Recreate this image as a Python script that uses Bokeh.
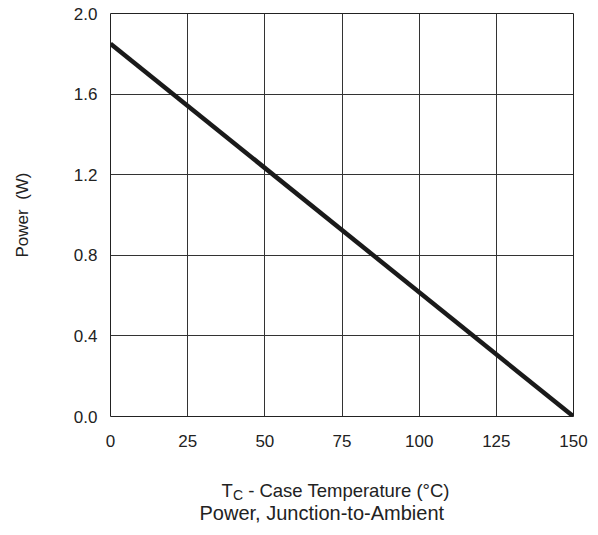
from bokeh.plotting import figure
from bokeh.layouts import column
from bokeh.models import FixedTicker, PrintfTickFormatter, Label, Range1d
from bokeh.embed import file_html
from bokeh.resources import INLINE

# data
temp_c = [0, 150]
power_w = [1.85, 0.0]
x_ticks = [0, 25, 50, 75, 100, 125, 150]
y_ticks = [0.0, 0.4, 0.8, 1.2, 1.6, 2.0]

FONT = "Liberation Sans"
TXT = "#222222"

p = figure(frame_width=463, frame_height=403, width=598, height=461,
           min_border_left=110, min_border_right=25, min_border_top=13, min_border_bottom=45,
           x_range=Range1d(0, 150), y_range=Range1d(0, 2.0),
           output_backend="svg", toolbar_location=None, tools="")
p.outline_line_color = "#222222"
p.outline_line_width = 1

p.line(temp_c, power_w, line_width=4.5, line_color="#1a1a1a")

for ax in (p.xaxis, p.yaxis):
    ax.axis_line_color = None
    ax.major_tick_line_color = None
    ax.minor_tick_line_color = None
    ax.major_label_text_font = FONT
    ax.major_label_text_font_size = "17px"
    ax.major_label_text_color = TXT

p.xaxis.ticker = FixedTicker(ticks=x_ticks)
p.yaxis.ticker = FixedTicker(ticks=y_ticks)
p.yaxis.formatter = PrintfTickFormatter(format="%.1f")
p.xaxis.major_label_standoff = 12
p.yaxis.major_label_standoff = 7

p.yaxis.axis_label = "Power\u00a0\u00a0(W)"
p.yaxis.axis_label_text_font = FONT
p.yaxis.axis_label_text_font_size = "17px"
p.yaxis.axis_label_text_font_style = "normal"
p.yaxis.axis_label_text_color = TXT
p.yaxis.axis_label_standoff = 39

p.xgrid.ticker = FixedTicker(ticks=x_ticks)
p.ygrid.ticker = FixedTicker(ticks=y_ticks)
for g in (p.xgrid, p.ygrid):
    g.grid_line_color = "#333333"
    g.grid_line_width = 1
    g.grid_line_alpha = 1.0

# caption strip below the plot: x-axis title (with subscript) and figure caption
cap = figure(width=598, height=74, x_range=Range1d(0, 598), y_range=Range1d(0, 74),
             min_border=0, output_backend="svg", toolbar_location=None, tools="")
cap.axis.visible = False
cap.grid.visible = False
cap.outline_line_color = None

lbl_kw = dict(x_units="screen", y_units="screen", text_font=FONT, text_color=TXT,
              text_align="left", text_baseline="alphabetic")
cap.add_layout(Label(x=111, y=45, text="T", text_font_size="18.5px", **lbl_kw))
cap.add_layout(Label(x=122.5, y=41, text="C", text_font_size="14px", **lbl_kw))
cap.add_layout(Label(x=132.5, y=45, text="\u00a0- Case Temperature (°C)", text_font_size="18.5px", **lbl_kw))
cap.add_layout(Label(x=89, y=23, text="Power, Junction-to-Ambient", text_font_size="20px", **lbl_kw))

open("out.html", "w").write(file_html(column(p, cap, spacing=0), INLINE))
